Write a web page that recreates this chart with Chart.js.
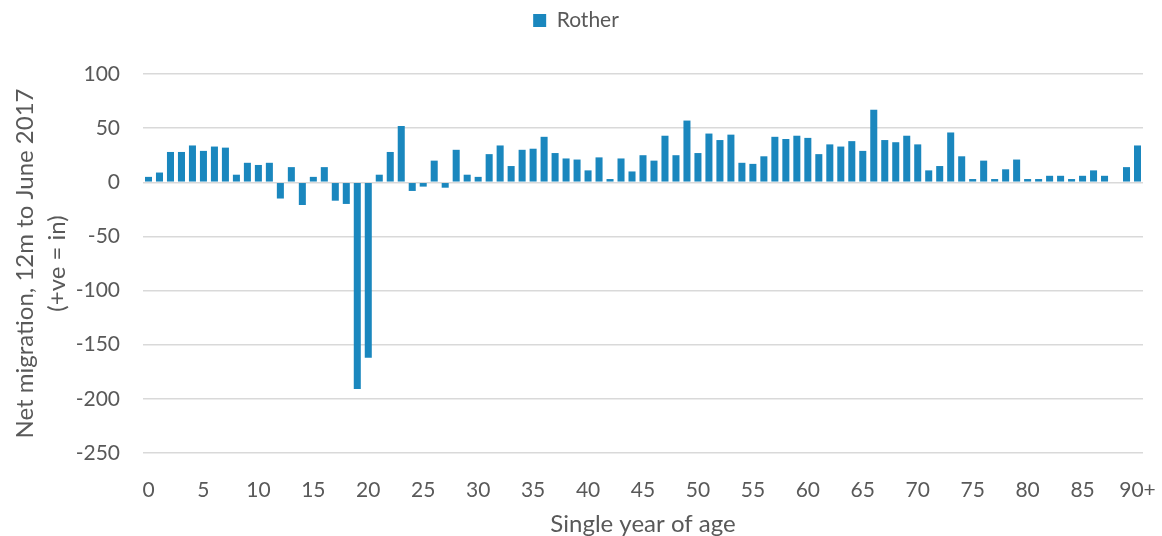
<!DOCTYPE html>
<html>
<head>
<meta charset="utf-8">
<script src="https://cdn.jsdelivr.net/npm/chart.js@4"></script>
<style>
  html, body { margin: 0; padding: 0; background: #fff; }
  #wrap { width: 1162px; height: 536px; position: relative; }
</style>
</head>
<body>
<div id="wrap"><canvas id="myBarChart"></canvas></div>
<script>
// ages 0..89 then 90+
const ages = ["0","1","2","3","4","5","6","7","8","9","10","11","12","13","14","15","16","17","18","19",
  "20","21","22","23","24","25","26","27","28","29","30","31","32","33","34","35","36","37","38","39",
  "40","41","42","43","44","45","46","47","48","49","50","51","52","53","54","55","56","57","58","59",
  "60","61","62","63","64","65","66","67","68","69","70","71","72","73","74","75","76","77","78","79",
  "80","81","82","83","84","85","86","87","88","89","90+"];

// net migration, Rother, 12m to June 2017
const rother = [5,9,28,28,34,29,33,32,7,18,16,18,-15,14,-21,5,14,-17,-20,-191,
  -162,7,28,52,-8,-4,20,-5,30,7,5,26,34,15,30,31,42,27,22,21,
  11,23,3,22,10,25,20,43,25,57,27,45,39,44,18,17,24,42,40,43,
  41,26,35,33,38,29,67,39,37,43,35,11,15,46,24,3,20,3,12,21,
  3,3,6,6,3,6,11,6,0,14,34];

const yTicks = [100, 50, 0, -50, -100, -150, -200, -250];
const seriesName = "Rother";
const yTitle = ["Net migration, 12m to June 2017", "(+ve = in)"];
const xTitle = "Single year of age";

const txt = "#595959";
const gridCol = "#d9d9d9";
const fontFam = "Lato, 'Open Sans', sans-serif";

// extra room under the legend, like the excel chart
const legendGap = {
    id: 'legendGap',
    beforeInit(chart) {
        const origFit = chart.legend.fit;
        chart.legend.fit = function () {
            origFit.bind(chart.legend)();
            this.height += 33;
        };
    }
};

var ctx = document.getElementById("myBarChart").getContext('2d');
var myChart = new Chart(ctx, {
    type: 'bar',
    data: {
        labels: ages,
        datasets: [{
            label: seriesName,
            data: rother,
            backgroundColor: '#1a87be',
            borderWidth: 0,
            categoryPercentage: 1.0,
            barPercentage: 0.64
        }]
    },
    plugins: [legendGap],
    options: {
        responsive: true,
        maintainAspectRatio: false,
        animation: false,
        layout: { padding: { left: 9, right: 19, top: 2, bottom: 0 } },
        plugins: {
            legend: {
                position: 'top',
                labels: {
                    color: txt,
                    font: { family: fontFam, size: 21 },
                    boxWidth: 13,
                    boxHeight: 13,
                    padding: 8
                }
            },
            tooltip: { enabled: false }
        },
        scales: {
            x: {
                grid: { display: false, drawTicks: false },
                border: { display: false },
                afterFit: function (axis) {
                    axis.height = 83;
                    axis.paddingLeft = 0;
                    axis.paddingRight = 0;
                },
                ticks: {
                    autoSkip: false,
                    maxRotation: 0,
                    padding: 25,
                    color: txt,
                    font: { family: fontFam, size: 21 },
                    callback: function (val, i) { return i % 5 === 0 || i === ages.length - 1 ? ages[i] : ''; }
                },
                title: {
                    display: true,
                    text: xTitle,
                    color: txt,
                    font: { family: fontFam, size: 24, lineHeight: 1.0 },
                    padding: { top: 0, bottom: 0 }
                }
            },
            y: {
                min: -250,
                max: 100,
                afterBuildTicks: function (axis) {
                    axis.ticks = yTicks.map(v => ({ value: v }));
                },
                afterFit: function (axis) {
                    axis.width = 134;
                },
                grid: { color: gridCol, lineWidth: 1.5, drawTicks: false },
                border: { display: false },
                ticks: {
                    padding: 23,
                    color: txt,
                    font: { family: fontFam, size: 21 }
                },
                title: {
                    display: true,
                    text: yTitle,
                    color: txt,
                    font: { family: fontFam, size: 24, lineHeight: 1.33 },
                    padding: { top: 0, bottom: 0 }
                }
            }
        }
    }
});
</script>
</body>
</html>
